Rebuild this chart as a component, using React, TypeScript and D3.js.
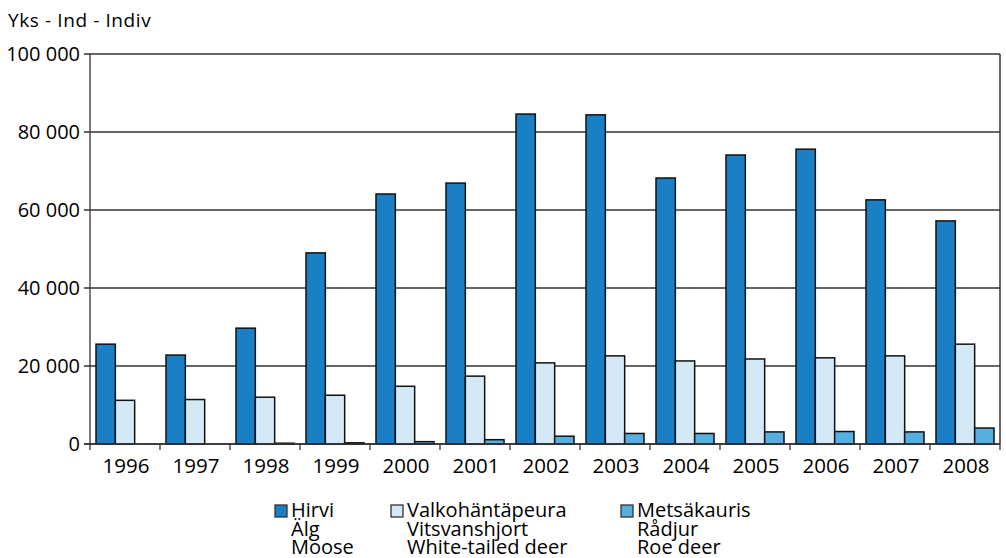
import React from "react";
import * as d3 from "d3";

const years = ["1996","1997","1998","1999","2000","2001","2002","2003","2004","2005","2006","2007","2008"];
const hirvi = [25600, 22800, 29700, 49000, 64100, 66900, 84600, 84400, 68200, 74100, 75600, 62600, 57200];
const valko = [11200, 11400, 12000, 12500, 14800, 17400, 20800, 22600, 21300, 21800, 22100, 22600, 25600];
const metsa = [0, 0, 200, 300, 600, 1100, 2000, 2700, 2700, 3100, 3200, 3100, 4100];
const yTicks = [0, 20000, 40000, 60000, 80000, 100000];
const seriesNames = [
  ["Hirvi", "Älg", "Moose"],
  ["Valkohäntäpeura", "Vitsvanshjort", "White-tailed deer"],
  ["Metsäkauris", "Rådjur", "Roe deer"],
];
const colors = ["#1a7fc4", "#d4e8f6", "#55b0e0"];

const W = 1006, H = 558;
const left = 90, right = 1000, top = 54, bottom = 444;
const font = "'Open Sans', 'Noto Sans', sans-serif";

export default function App() {
  const x = d3.scaleBand().domain(years).range([left, right]).paddingInner(0).paddingOuter(0);
  const inner = d3.scaleBand().domain(["0", "1", "2"]).range([6, x.bandwidth() - 6]).padding(0);
  const y = d3.scaleLinear().domain([0, 100000]).range([bottom, top]);
  const fmt = (v: number) => d3.format(",")(v).replace(/,/g, " ");
  const series = [hirvi, valko, metsa];
  const legendX = [275, 391, 621];

  return (
    <svg width={W} height={H} style={{ position: "absolute", left: 0, top: 0 }} fontFamily={font}>
      <rect width={W} height={H} fill="#fff" />
      <text x={8} y={27} fontSize={19} letterSpacing={0.6} fill="#000">Yks - Ind - Indiv</text>
      {yTicks.map((t) => (
        <g key={t}>
          <line x1={84} x2={right} y1={y(t)} y2={y(t)} stroke="#333" strokeWidth={1.3} />
          <text x={80} y={y(t) + 7} fontSize={20} textAnchor="end" fill="#000">{fmt(t)}</text>
        </g>
      ))}
      <line x1={left} x2={left} y1={top} y2={bottom + 6} stroke="#333" strokeWidth={1.3} />
      <line x1={right} x2={right} y1={top} y2={bottom} stroke="#333" strokeWidth={1.5} />
      {years.map((yr, i) => (
        <g key={yr}>
          <line x1={x(yr)! + x.bandwidth()} x2={x(yr)! + x.bandwidth()} y1={bottom} y2={bottom + 6} stroke="#333" strokeWidth={1.3} />
          <text x={x(yr)! + x.bandwidth() / 2 + 1} y={473} fontSize={20.5} textAnchor="middle" fill="#000">{yr}</text>
          {series.map((s, k) => {
            const v = s[i];
            if (v <= 0) return null;
            const bx = x(yr)! + inner(String(k))!;
            return (
              <rect key={k} x={bx} y={y(v)} width={inner.bandwidth()} height={Math.max(0.5, bottom - y(v))}
                fill={colors[k]} stroke="#111" strokeWidth={1.5} />
            );
          })}
        </g>
      ))}
      <line x1={84} x2={right} y1={bottom} y2={bottom} stroke="#333" strokeWidth={1.5} />
      {seriesNames.map((names, k) => (
        <g key={k}>
          <rect x={legendX[k]} y={505} width={12} height={12} fill={colors[k]} stroke="#333" strokeWidth={1.3} />
          {names.map((n, j) => (
            <text key={j} x={legendX[k] + 16} y={517 + j * 18.7} fontSize={20} fill="#000">{n}</text>
          ))}
        </g>
      ))}
    </svg>
  );
}
